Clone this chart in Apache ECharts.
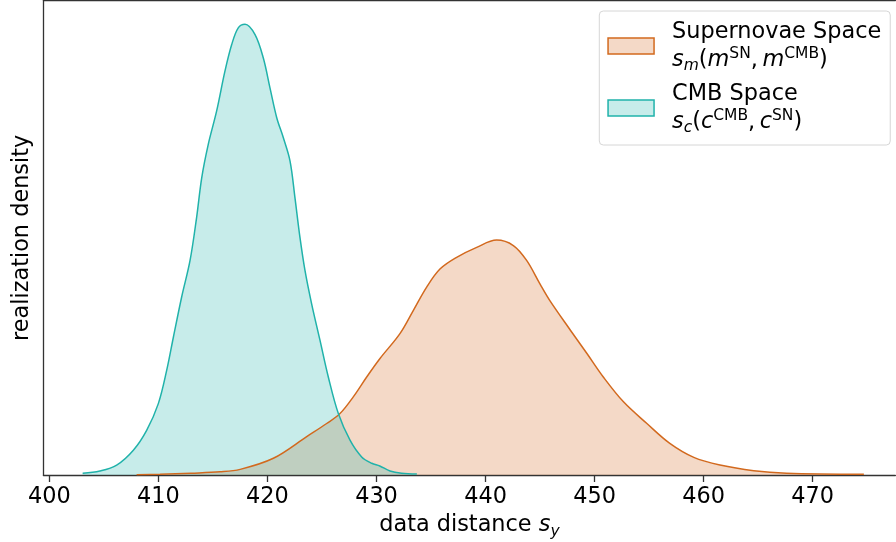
<!DOCTYPE html>
<html>
<head>
<meta charset="utf-8">
<script src="https://cdn.jsdelivr.net/npm/echarts@6/dist/echarts.min.js"></script>
<style>
  html, body { margin: 0; padding: 0; background: #fff; }
  #chart { width: 896px; height: 542px; }
</style>
</head>
<body>
<div id="chart"></div>
<script>
// CMB space curve (peak = 1)
var cmbX = [403.05, 404.63, 406.17, 407.7, 408.92, 409.99, 410.76, 411.37, 412.13, 412.9, 413.5, 413.97, 414.57, 415.34, 416.1, 416.72, 417.32, 417.94, 418.86, 419.62, 420.23, 420.85, 421.45, 422.07, 422.52, 422.98, 423.44, 424.05, 424.82, 425.58, 426.5, 427.57, 428.64, 429.56, 430.3, 431.24, 432.3, 433.7];
var cmbY = [0.004, 0.009, 0.022, 0.055, 0.099, 0.158, 0.232, 0.305, 0.394, 0.475, 0.570, 0.658, 0.732, 0.806, 0.894, 0.953, 0.990, 0.998, 0.975, 0.923, 0.857, 0.791, 0.747, 0.695, 0.614, 0.526, 0.453, 0.379, 0.298, 0.217, 0.136, 0.077, 0.040, 0.026, 0.020, 0.009, 0.004, 0.002];

// Supernovae space curve
var snX = [408.0, 410.15, 413.0, 415.65, 417.5, 420.54, 423.6, 425.43, 426.65, 427.87, 429.1, 430.32, 432.15, 433.37, 434.6, 435.82, 437.35, 439.19, 441.02, 442.55, 443.77, 444.99, 445.9, 447.8, 449.3, 450.8, 452.65, 454.8, 456.9, 459.1, 461.5, 464.6, 467.6, 474.7];
var snY = [0.0005, 0.0015, 0.004, 0.007, 0.0125, 0.037, 0.085, 0.114, 0.136, 0.173, 0.217, 0.258, 0.313, 0.364, 0.416, 0.456, 0.482, 0.504, 0.520, 0.508, 0.475, 0.423, 0.386, 0.320, 0.269, 0.217, 0.162, 0.114, 0.070, 0.039, 0.022, 0.0095, 0.004, 0.0015];

var xTicks = [400, 410, 420, 430, 440, 450, 460, 470];

function pairs(xs, ys) {
    let out = [];
    for (let i = 0; i < xs.length; i++) out.push([xs[i], ys[i]]);
    return out;
}

var font = 'DejaVu Sans';
var orange = '#d2691e';
var teal = '#20b2aa';
var fs = 22.4;

var chart = echarts.init(document.getElementById('chart'));

var option = {
    animation: false,
    backgroundColor: '#fff',
    // plot is cut by the right edge of the picture, so no right spine
    grid: { left: 43.4, top: 0.7, width: 852, height: 474.3, outerBoundsMode: 'none', containLabel: false },
    xAxis: [{
        type: 'value',
        min: 399.45,
        max: 477.59,
        name: '{n|data distance }{i|s}{sub|y}',
        nameLocation: 'middle',
        nameGap: 36.5,
        nameTextStyle: {
            rich: {
                n: { fontFamily: font, fontSize: fs, color: '#000', lineHeight: 28 },
                i: { fontFamily: font, fontSize: fs, fontStyle: 'italic', color: '#000', lineHeight: 28 },
                sub: { fontFamily: font, fontSize: 15.5, fontStyle: 'italic', color: '#000', lineHeight: 10, verticalAlign: 'bottom' }
            }
        },
        axisLine: { show: true, lineStyle: { color: '#333', width: 1.3 } },
        axisTick: { show: true, customValues: xTicks, length: 7, lineStyle: { color: '#333', width: 1.3 } },
        axisLabel: { customValues: xTicks, margin: 11, fontFamily: font, fontSize: fs, color: '#000' },
        splitLine: { show: false }
    }, {
        type: 'value',
        position: 'top',
        min: 399.45,
        max: 477.59,
        axisLine: { show: true, lineStyle: { color: '#333', width: 1.3 } },
        axisTick: { show: false },
        axisLabel: { show: false },
        splitLine: { show: false }
    }],
    yAxis: {
        type: 'value',
        min: 0,
        max: 1.05,
        name: 'realization density',
        nameLocation: 'middle',
        nameGap: 10,
        nameTextStyle: { fontFamily: font, fontSize: fs, color: '#000' },
        axisLine: { show: true, lineStyle: { color: '#333', width: 1.3 } },
        axisTick: { show: false },
        axisLabel: { show: false },
        splitLine: { show: false }
    },
    legend: {
        orient: 'vertical',
        left: 599.3,
        top: 11,
        padding: [10, 9, 9, 8],
        itemGap: 9,
        itemWidth: 46,
        itemHeight: 16,
        backgroundColor: '#fff',
        borderColor: '#d6d6d6',
        borderWidth: 1,
        borderRadius: 4,
        data: [
            { name: 'sn', icon: 'rect', itemStyle: { color: 'rgba(210,105,30,0.25)', borderColor: orange, borderWidth: 1.5 } },
            { name: 'cmb', icon: 'rect', itemStyle: { color: 'rgba(32,178,170,0.25)', borderColor: teal, borderWidth: 1.5 } }
        ],
        formatter: function (name) {
            if (name == 'sn') {
                return '{t|Supernovae Space}\n{i|s}{sub|m}{t|(}{i|m}{sup|SN}{t|,\u2009}{i|m}{sup|CMB}{t|)}';
            }
            return '{t|CMB Space}\n{i|s}{sub|c}{t|(}{i|c}{sup|CMB}{t|,\u2009}{i|c}{sup|SN}{t|)}';
        },
        textStyle: {
            padding: [0, 0, 0, 13],
            rich: {
                t: { fontFamily: font, fontSize: fs, color: '#000', lineHeight: 28 },
                i: { fontFamily: font, fontSize: fs, fontStyle: 'italic', color: '#000', lineHeight: 28 },
                sub: { fontFamily: font, fontSize: 15.5, fontStyle: 'italic', color: '#000', lineHeight: 10, verticalAlign: 'bottom' },
                sup: { fontFamily: font, fontSize: 15.5, color: '#000', lineHeight: 22, verticalAlign: 'top' }
            }
        }
    },
    series: [
        {
            name: 'sn',
            type: 'line',
            data: pairs(snX, snY),
            smooth: 0.35,
            showSymbol: false,
            lineStyle: { color: orange, width: 1.5 },
            itemStyle: { color: orange },
            areaStyle: { color: orange, opacity: 0.25 }
        },
        {
            name: 'cmb',
            type: 'line',
            data: pairs(cmbX, cmbY),
            smooth: 0.35,
            showSymbol: false,
            lineStyle: { color: teal, width: 1.5 },
            itemStyle: { color: teal },
            areaStyle: { color: teal, opacity: 0.25 }
        }
    ]
};

chart.setOption(option);
</script>
</body>
</html>
